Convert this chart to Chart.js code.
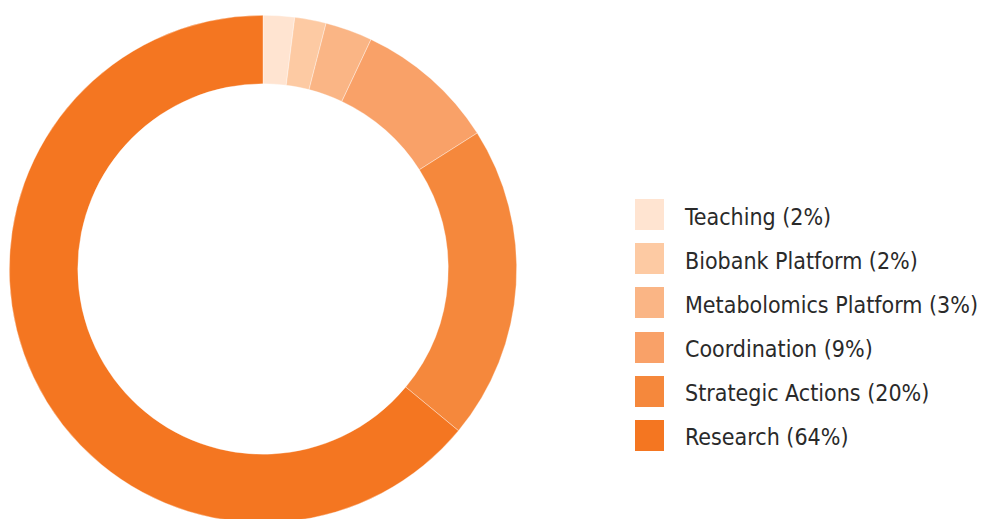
<!DOCTYPE html>
<html>
<head>
<meta charset="utf-8">
<script src="https://cdn.jsdelivr.net/npm/chart.js@4/dist/chart.umd.min.js"></script>
<style>
  html, body { margin: 0; padding: 0; background: #fff; overflow: hidden; }
  body { width: 983px; height: 519px; position: relative; }
  #chartWrap { position: absolute; left: 0; top: 0; width: 526px; height: 538px; }
  #legend { position: absolute; left: 635px; top: 199px; margin: 0; padding: 0; list-style: none;
            font-family: "DejaVu Sans Condensed", "DejaVu Sans", sans-serif; font-size: 23px; color: #2a2a2a; }
  #legend li { display: flex; align-items: center; height: 31px; margin-bottom: 13.2px; white-space: nowrap; }
  #legend span.box { display: inline-block; width: 29px; height: 31px; margin-right: 21px; flex: none; }
  #legend span.txt { position: relative; top: 2px; }
</style>
</head>
<body>
<div id="chartWrap"><canvas id="budgetChart"></canvas></div>
<ul id="legend"></ul>
<script>
// data
const categories = ['Teaching', 'Biobank Platform', 'Metabolomics Platform', 'Coordination', 'Strategic Actions', 'Research'];
const shares = [2, 2, 3, 9, 20, 64];
const sliceColors = ['#FFE4D1', '#FDCAA3', '#FAB585', '#F9A168', '#F5883C', '#F47621'];

// legend built from the same arrays
const legendEl = document.getElementById('legend');
categories.forEach((name, i) => {
    const li = document.createElement('li');
    const box = document.createElement('span');
    box.className = 'box';
    box.style.background = sliceColors[i];
    const txt = document.createElement('span');
    txt.className = 'txt';
    txt.textContent = `${name} (${shares[i]}%)`;
    li.appendChild(box);
    li.appendChild(txt);
    legendEl.appendChild(li);
});

new Chart(document.getElementById('budgetChart'), {
    type: 'doughnut',
    data: {
        labels: categories,
        datasets: [{
            data: shares,
            backgroundColor: sliceColors,
            borderColor: 'rgba(255,255,255,0.6)',
            borderWidth: 0.6
        }]
    },
    options: {
        responsive: true,
        maintainAspectRatio: false,
        animation: false,
        cutout: '73%',
        layout: { padding: { top: 15, bottom: 15, left: 0, right: 0 } },
        plugins: { legend: { display: false }, tooltip: { enabled: false } }
    }
});
</script>
</body>
</html>
